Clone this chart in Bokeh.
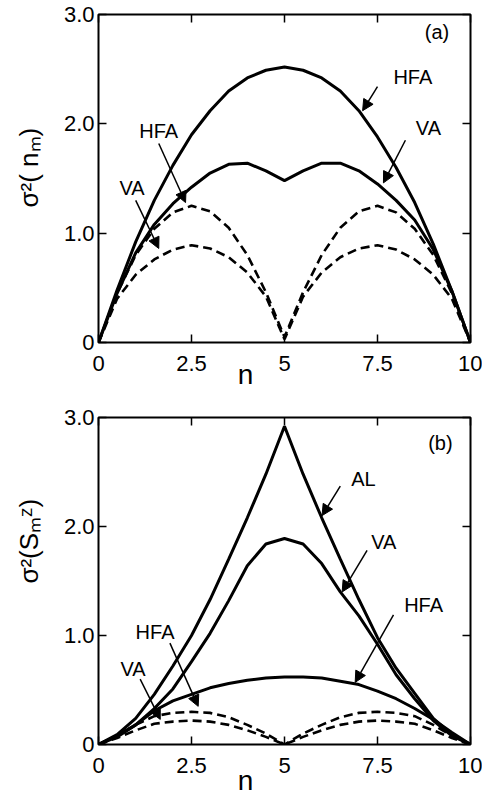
from bokeh.plotting import figure
from bokeh.layouts import column
from bokeh.models import LinearAxis, FixedTicker, Range1d, Label, Arrow, NormalHead
from bokeh.embed import file_html
from bokeh.resources import INLINE

# ---------------- data ----------------
n = [0, 0.5, 1, 1.5, 2, 2.5, 3, 3.5, 4, 4.5, 5, 5.5, 6, 6.5, 7, 7.5, 8, 8.5, 9, 9.5, 10]

# panel (a): sigma^2(n_m)
a_hfa_solid = [0, 0.48, 0.92, 1.30, 1.62, 1.90, 2.12, 2.30, 2.42, 2.49, 2.52,
               2.49, 2.42, 2.30, 2.12, 1.88, 1.60, 1.28, 0.90, 0.47, 0]
a_va_solid = [0, 0.45, 0.82, 1.08, 1.27, 1.42, 1.55, 1.63, 1.64, 1.57, 1.48,
              1.57, 1.64, 1.64, 1.57, 1.45, 1.30, 1.12, 0.85, 0.47, 0]
a_hfa_dash = [0, 0.45, 0.80, 1.04, 1.19, 1.25, 1.20, 1.05, 0.80, 0.46, 0.05,
              0.46, 0.80, 1.05, 1.20, 1.25, 1.19, 1.04, 0.80, 0.45, 0]
a_va_dash = [0, 0.40, 0.62, 0.76, 0.85, 0.89, 0.86, 0.78, 0.64, 0.42, 0.03,
             0.42, 0.64, 0.78, 0.86, 0.89, 0.85, 0.76, 0.62, 0.40, 0]

# panel (b): sigma^2(S_m^z)
b_al_solid = [0, 0.09, 0.24, 0.46, 0.72, 1.00, 1.33, 1.70, 2.08, 2.48, 2.92,
              2.48, 2.08, 1.70, 1.33, 0.98, 0.70, 0.47, 0.24, 0.09, 0]
b_va_solid = [0, 0.07, 0.18, 0.33, 0.51, 0.76, 1.02, 1.32, 1.64, 1.84, 1.89,
              1.84, 1.66, 1.40, 1.18, 0.92, 0.64, 0.42, 0.22, 0.08, 0]
b_hfa_solid = [0, 0.08, 0.18, 0.31, 0.40, 0.46, 0.52, 0.56, 0.59, 0.61, 0.62,
               0.62, 0.61, 0.58, 0.55, 0.49, 0.42, 0.33, 0.23, 0.11, 0]
b_hfa_dash = [0, 0.08, 0.18, 0.26, 0.29, 0.30, 0.29, 0.25, 0.18, 0.10, 0.0,
              0.10, 0.18, 0.25, 0.29, 0.30, 0.29, 0.26, 0.18, 0.08, 0]
b_va_dash = [0, 0.06, 0.13, 0.19, 0.21, 0.22, 0.21, 0.18, 0.13, 0.07, 0.0,
             0.07, 0.13, 0.18, 0.21, 0.22, 0.21, 0.19, 0.13, 0.06, 0]

x_ticks = [0, 2.5, 5, 7.5, 10]
x_tick_labels = ["0", "2.5", "5", "7.5", "10"]
y_ticks = [0, 1, 2, 3]
y_tick_labels = ["0", "1.0", "2.0", "3.0"]

# annotations: (text, text x, text y, arrow from x, y, arrow to x, y)
a_notes = [("HFA", 8.45, 2.43, 7.5, 2.34, 7.1, 2.12),
           ("VA", 8.87, 1.96, 8.25, 1.85, 7.66, 1.46),
           ("HFA", 1.62, 1.93, 1.62, 1.82, 2.34, 1.28),
           ("VA", 0.9, 1.41, 1.0, 1.30, 1.62, 0.86)]
b_notes = [("AL", 7.12, 2.44, 6.5, 2.37, 6.01, 2.10),
           ("VA", 7.67, 1.86, 7.22, 1.78, 6.55, 1.40),
           ("HFA", 8.74, 1.28, 7.93, 1.19, 6.9, 0.57),
           ("HFA", 1.52, 1.03, 1.92, 0.93, 2.68, 0.35),
           ("VA", 0.93, 0.69, 1.12, 0.60, 1.66, 0.23)]

FONT = "Liberation Sans"
NB = "\u00a0"


def make_fig(height, top, bottom, ylabel, ypad, nlabel_standoff, panel_tag, tag_xy):
    p = figure(width=482, height=height, x_range=Range1d(0, 10), y_range=Range1d(0, 3),
               output_backend="svg", toolbar_location=None,
               min_border_left=98, min_border_right=12,
               min_border_top=top, min_border_bottom=bottom,
               x_axis_location=None, y_axis_location=None)
    p.grid.visible = False
    p.outline_line_color = "black"
    p.outline_line_width = 2
    p.background_fill_color = "white"
    p.border_fill_color = "white"

    xlab = {t: s for t, s in zip(x_ticks, x_tick_labels)}
    ylab = {t: s for t, s in zip(y_ticks, y_tick_labels)}

    bottom_ax = LinearAxis(ticker=FixedTicker(ticks=x_ticks), major_label_overrides=xlab,
                           major_label_standoff=13, major_label_text_font_size="22px",
                           axis_label="n" + NB * 10, axis_label_standoff=nlabel_standoff,
                           axis_label_text_font_size="28px")
    left_ax = LinearAxis(ticker=FixedTicker(ticks=y_ticks), major_label_overrides=ylab,
                         major_label_standoff=4, major_label_text_font_size="22px",
                         axis_label=NB * ypad + ylabel, axis_label_standoff=17,
                         axis_label_text_font_size="26px")
    top_ax = LinearAxis(ticker=FixedTicker(ticks=x_ticks),
                        major_label_overrides={t: "" for t in x_ticks},
                        major_label_standoff=0, major_label_text_font_size="1px")
    right_ax = LinearAxis(ticker=FixedTicker(ticks=y_ticks),
                          major_label_overrides={t: "" for t in y_ticks},
                          major_label_standoff=0, major_label_text_font_size="1px")
    p.add_layout(bottom_ax, "below")
    p.add_layout(left_ax, "left")
    p.add_layout(top_ax, "above")
    p.add_layout(right_ax, "right")

    for ax in [bottom_ax, left_ax, top_ax, right_ax]:
        ax.axis_line_color = None
        ax.major_tick_in = 8
        ax.major_tick_out = 0
        ax.major_tick_line_width = 1.5
        ax.major_tick_line_color = "black"
        ax.minor_tick_line_color = None
        ax.major_label_text_font = FONT
        ax.major_label_text_color = "black"
        ax.axis_label_text_font = FONT
        ax.axis_label_text_font_style = "normal"
        ax.axis_label_text_color = "black"

    p.add_layout(Label(x=tag_xy[0], y=tag_xy[1], text=panel_tag, text_font=FONT,
                       text_font_size="20px", text_align="center", text_baseline="middle",
                       text_color="black"))
    return p


def add_notes(p, notes):
    for txt, tx, ty, x0, y0, x1, y1 in notes:
        p.add_layout(Label(x=tx, y=ty, text=txt, text_font=FONT, text_font_size="20px",
                           text_align="center", text_baseline="middle", text_color="black"))
        p.add_layout(Arrow(end=NormalHead(size=11, fill_color="black", line_color="black", line_width=1),
                           x_start=x0, y_start=y0, x_end=x1, y_end=y1,
                           line_color="black", line_width=1.5))


pa = make_fig(400, 14, 58, "σ²( nₘ)", 3, -15, "(a)", (9.1, 2.84))
pa.line(n, a_hfa_solid, line_color="black", line_width=3)
pa.line(n, a_va_solid, line_color="black", line_width=3)
pa.line(n, a_hfa_dash, line_color="black", line_width=2.6, line_dash="9 5")
pa.line(n, a_va_dash, line_color="black", line_width=2.6, line_dash="9 5")
add_notes(pa, a_notes)

pb = make_fig(398, 17, 53, "σ²(Sₘᶻ)", 11, -11, "(b)", (9.19, 2.77))
pb.line(n, b_al_solid, line_color="black", line_width=3)
pb.line(n, b_va_solid, line_color="black", line_width=3)
pb.line(n, b_hfa_solid, line_color="black", line_width=3)
pb.line(n, b_hfa_dash, line_color="black", line_width=2.6, line_dash="9 5")
pb.line(n, b_va_dash, line_color="black", line_width=2.6, line_dash="9 5")
add_notes(pb, b_notes)

layout = column(pa, pb, spacing=0)
open("out.html", "w").write(file_html(layout, INLINE))
